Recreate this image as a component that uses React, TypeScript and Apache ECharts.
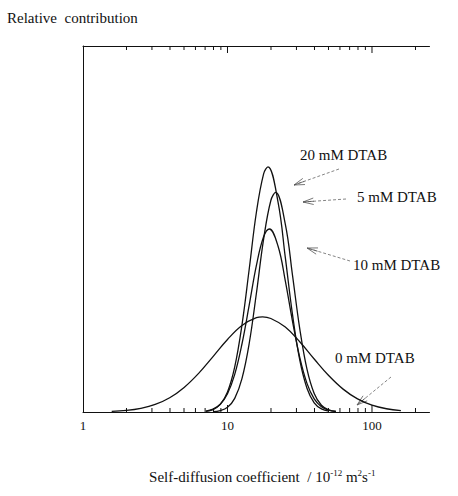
import React, { useEffect, useRef } from "react";
import * as echarts from "echarts";

// Axis ticks
const tickLabels = [1, 10, 100];
const majorTicks = [10, 100];
const minorTicks = [2, 3, 4, 5, 6, 7, 8, 9, 20, 30, 40, 50, 60, 70, 80, 90, 200];

// 0 mM DTAB (broad distribution)
const x0mM = [1.58, 2.0, 2.51, 3.16, 3.98, 5.01, 6.31, 7.94, 10, 12.59, 15.85, 17.5, 19.95, 25.12, 31.62, 39.81, 50.12, 63.1, 79.4, 100, 125.9, 158.5];
const y0mM = [0.0018, 0.0043, 0.01, 0.0206, 0.0389, 0.0671, 0.1055, 0.1514, 0.1982, 0.2364, 0.2576, 0.26, 0.2555, 0.2321, 0.1919, 0.1447, 0.0996, 0.0625, 0.0358, 0.0187, 0.0089, 0.0039];

// 5 mM DTAB
const x5mM = [7.94, 8.91, 10, 11.22, 12.59, 14.13, 15.85, 17.78, 19.95, 21.53, 25.12, 28.18, 31.62, 35.48, 39.81, 44.67, 50.12, 56.23];
const y5mM = [0.0009, 0.0036, 0.0128, 0.0372, 0.0912, 0.1872, 0.3245, 0.4723, 0.5779, 0.6, 0.5136, 0.3734, 0.228, 0.1171, 0.0505, 0.0183, 0.0056, 0.0014];

// 10 mM DTAB
const x10mM = [7.08, 7.94, 8.91, 10, 11.22, 12.59, 14.13, 15.85, 17.78, 19.5, 22.39, 25.12, 28.18, 31.62, 35.48, 39.81, 44.67, 50.12, 56.23];
const y10mM = [0.0025, 0.0077, 0.021, 0.0498, 0.1028, 0.1858, 0.2917, 0.4005, 0.4787, 0.5, 0.4528, 0.3584, 0.2478, 0.1491, 0.0782, 0.0358, 0.0143, 0.005, 0.0015];

// 20 mM DTAB
const x20mM = [7.08, 7.94, 8.91, 10, 11.22, 12.59, 14.13, 15.85, 17.78, 19.05, 22.39, 25.12, 28.18, 31.62, 35.48, 39.81, 44.67, 50.12];
const y20mM = [0.0018, 0.0066, 0.0206, 0.0546, 0.1233, 0.2376, 0.39, 0.5457, 0.6506, 0.67, 0.5729, 0.4224, 0.2661, 0.1423, 0.065, 0.0252, 0.0084, 0.0023];

const seriesNames = ["0 mM DTAB", "5 mM DTAB", "10 mM DTAB", "20 mM DTAB"];

// Annotation layout (label position + arrow tail/head, pixels)
const annotationLayout = [
  { label: "20 mM DTAB", x: 300, y: 155, from: [339, 169], to: [294, 185] },
  { label: "5 mM DTAB", x: 357, y: 197, from: [346, 199], to: [303, 202] },
  { label: "10 mM DTAB", x: 353, y: 265, from: [350, 261], to: [307, 248] },
  { label: "0 mM DTAB", x: 335, y: 358, from: [391, 377], to: [357, 405] },
];

const FONT = "'Liberation Serif', 'Times New Roman', serif";
const INK = "#111";

export default function App() {
  const ref = useRef<HTMLDivElement>(null);

  useEffect(() => {
    if (!ref.current) return;
    const chart = echarts.init(ref.current, null, { renderer: "svg" });

    const pair = (xs: number[], ys: number[]) => xs.map((x, i) => [x, ys[i]]);
    const lineSeries = (name: string, xs: number[], ys: number[]) => ({
      type: "line",
      name,
      data: pair(xs, ys),
      smooth: 0.4,
      symbol: "none",
      showSymbol: false,
      silent: true,
      lineStyle: { color: INK, width: 1.3 },
      z: 3,
    });

    const tickData = [
      ...majorTicks.map((v) => [v, 1]),
      ...minorTicks.map((v) => [v, 0]),
    ];

    const arrowGraphics: any[] = [];
    annotationLayout.forEach((a) => {
      const [fx, fy] = a.from;
      const [tx, ty] = a.to;
      const ang = Math.atan2(fy - ty, fx - tx);
      const hl = 11;
      const spread = 0.3;
      arrowGraphics.push({
        type: "line",
        shape: { x1: fx, y1: fy, x2: tx, y2: ty },
        style: { stroke: "#666", lineWidth: 0.8, lineDash: [3, 2] },
        silent: true,
      });
      [-spread, 0, spread].forEach((s) => {
        arrowGraphics.push({
          type: "line",
          shape: {
            x1: tx,
            y1: ty,
            x2: tx + hl * Math.cos(ang + s),
            y2: ty + hl * Math.sin(ang + s),
          },
          style: { stroke: "#555", lineWidth: 0.8 },
          silent: true,
        });
      });
      arrowGraphics.push({
        type: "text",
        left: a.x,
        top: a.y - 8,
        style: { text: a.label, font: `15px ${FONT}`, fill: INK },
        silent: true,
      });
    });

    chart.setOption({
      animation: false,
      backgroundColor: "#fff",
      grid: { left: 83, top: 46, width: 346.5, bottom: 84 },
      xAxis: [
        {
          type: "log",
          logBase: 10,
          min: 1,
          max: 250,
          position: "bottom",
          axisLine: { show: true, lineStyle: { color: INK, width: 1 } },
          axisTick: { show: false },
          minorTick: { show: false },
          splitLine: { show: false },
          axisLabel: {
            color: INK,
            fontFamily: FONT,
            fontSize: 13,
            margin: 7,
            showMaxLabel: false,
            formatter: (v: number) => {
              const r = Math.round(v);
              return tickLabels.includes(r) && Math.abs(v - r) < 1e-6 ? String(r) : "";
            },
          },
          name: "Self-diffusion coefficient  / 10{s|-12} m{s|2}s{s|-1}",
          nameLocation: "middle",
          nameGap: 56,
          nameTextStyle: {
            color: INK,
            fontFamily: FONT,
            fontSize: 15,
            lineHeight: 18,
            padding: [0, 0, 0, 12],
            rich: {
              s: { fontFamily: FONT, fontSize: 9, color: INK, verticalAlign: "top", lineHeight: 10 },
            },
          },
        },
        {
          type: "log",
          logBase: 10,
          min: 1,
          max: 250,
          position: "top",
          axisLine: { show: true, lineStyle: { color: INK, width: 1 } },
          axisTick: { show: false },
          axisLabel: { show: false },
          splitLine: { show: false },
        },
      ],
      yAxis: {
        type: "value",
        min: 0,
        max: 1,
        axisLine: { show: true, lineStyle: { color: INK, width: 1 } },
        axisTick: { show: false },
        axisLabel: { show: false },
        splitLine: { show: false },
      },
      series: [
        lineSeries(seriesNames[0], x0mM, y0mM),
        lineSeries(seriesNames[1], x5mM, y5mM),
        lineSeries(seriesNames[2], x10mM, y10mM),
        lineSeries(seriesNames[3], x20mM, y20mM),
        {
          type: "custom",
          data: tickData,
          silent: true,
          z: 5,
          renderItem: (params: any, api: any) => {
            const v = api.value(0);
            const major = api.value(1) === 1;
            const b = api.coord([v, 0]);
            const t = api.coord([v, 1]);
            const len = major ? 7 : 4;
            return {
              type: "group",
              children: [
                { type: "line", shape: { x1: b[0], y1: b[1], x2: b[0], y2: b[1] - len }, style: { stroke: INK, lineWidth: 1 } },
                { type: "line", shape: { x1: t[0], y1: t[1], x2: t[0], y2: t[1] + len }, style: { stroke: INK, lineWidth: 1 } },
              ],
            };
          },
        },
      ],
      graphic: [
        {
          type: "text",
          left: 7,
          top: 10,
          style: { text: "Relative  contribution", font: `15px ${FONT}`, fill: INK },
          silent: true,
        },
        ...arrowGraphics,
      ],
    });

    return () => chart.dispose();
  }, []);

  return (
    <div
      ref={ref}
      style={{ position: "fixed", left: 0, top: 0, width: 458, height: 496, background: "#fff" }}
    />
  );
}
